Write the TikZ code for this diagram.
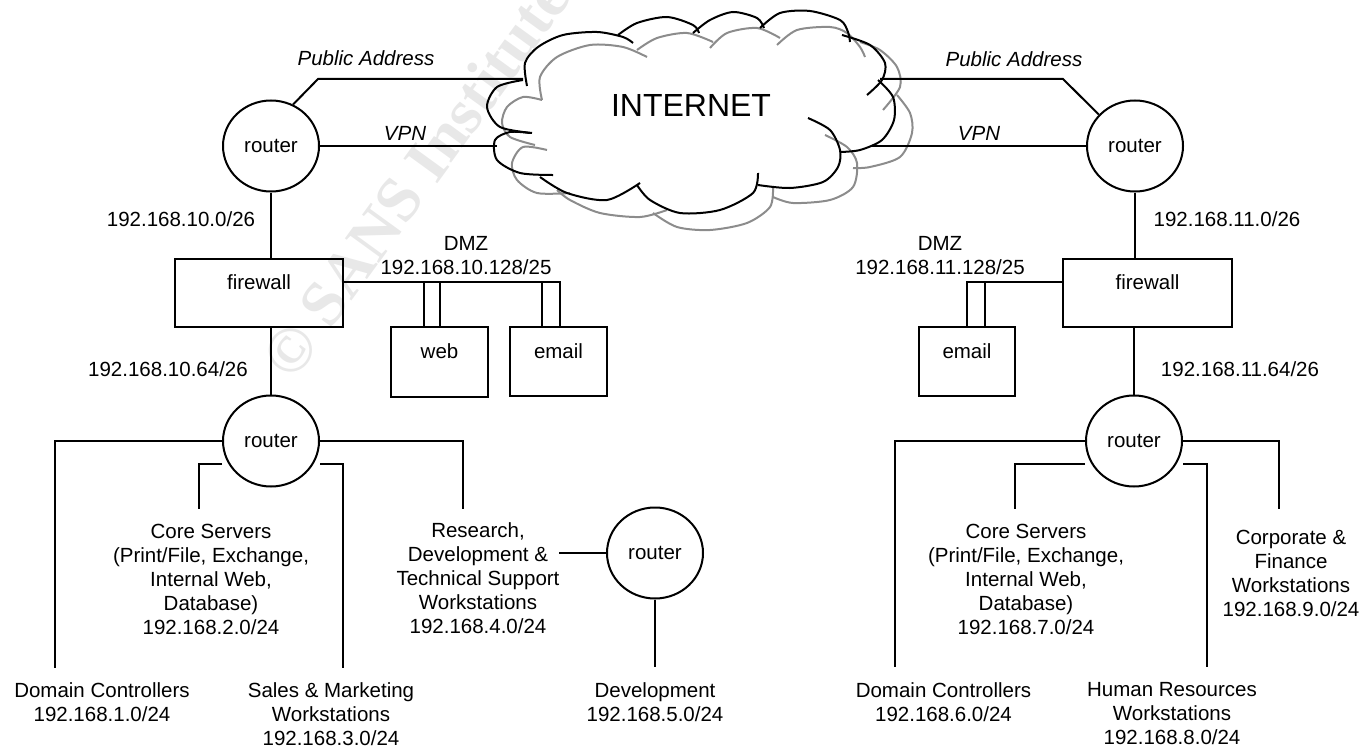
\documentclass[tikz,border=0pt]{standalone}
\usepackage{fontspec}
\setmainfont{Liberation Sans}
\newfontfamily\wmfont{Liberation Serif}
\usetikzlibrary{shapes.geometric}
\begin{document}
\begin{tikzpicture}[x=1pt,y=-1pt, line width=2pt,
  every node/.style={font=\fontsize{20.5}{24}\selectfont},
  rtr/.style={draw, ellipse, minimum width=96pt, minimum height=91pt, inner sep=0pt},
  box/.style={draw, rectangle, inner sep=0pt, text depth=21pt},
  lbl/.style={align=center, inner sep=0pt},
  ital/.style={font=\fontsize{20.5}{24}\selectfont\itshape, inner sep=0pt},
  bk/.style={line width=2pt, black},
  gy/.style={line width=2pt, black!45},
]
\useasboundingbox (0,0) rectangle (1370,749);
\clip (0,0) rectangle (1370,749);

% watermark
\node[rotate=54, anchor=west, text=black!9, inner sep=0pt,
      font=\wmfont\bfseries\fontsize{64}{70}\selectfont] (wm) at (275,370) {© SANS Institute};

% cloud (grey outline)
\draw[gy] plot[smooth] coordinates {(542,100) (540,77) (557,57) (590,45) (623,47) (647,57)};
\draw[gy] plot[smooth] coordinates {(637,50) (657,38) (687,33) (713,42)};
\draw[gy] plot[smooth] coordinates {(710,48) (727,33) (757,28) (780,38)};
\draw[gy] plot[smooth] coordinates {(777,45) (797,30) (830,27) (847,33) (860,47) (865,57)};
\draw[gy] plot[smooth] coordinates {(860,42) (880,50) (897,67) (900,87) (883,110)};
\draw[gy] plot[smooth] coordinates {(897,95) (910,113) (912,133) (900,157) (870,167) (853,168)};
\draw[gy] plot[smooth] coordinates {(825,135) (847,147) (857,163) (853,187) (830,200) (793,203) (773,197)};
\draw[gy] plot[smooth] coordinates {(773,187) (770,207) (747,223) (710,230) (677,227) (653,213)};
\draw[gy] plot[smooth] coordinates {(667,210) (640,217) (600,213) (570,200) (557,190)};
\draw[gy] plot[smooth] coordinates {(570,193) (537,193) (517,180) (512,163) (523,147) (547,150)};
\draw[gy] plot[smooth] coordinates {(535,145) (510,137) (502,123) (507,107) (523,97) (542,100)};

% cloud (black outline)
\draw[bk] plot[smooth] coordinates {(527,86) (525,63) (538,47) (563,35) (597,32) (623,37) (633,43)};
\draw[bk] plot[smooth] coordinates {(618,35) (637,23) (667,17) (693,25) (699,33)};
\draw[bk] plot[smooth] coordinates {(693,33) (710,20) (733,12) (757,18) (764,28)};
\draw[bk] plot[smooth] coordinates {(760,28) (780,13) (810,11) (840,20) (848,32) (850,42)};
\draw[bk] plot[smooth] coordinates {(842,35) (870,45) (885,63) (882,80) (867,95)};
\draw[bk] plot[smooth] coordinates {(878,80) (893,97) (894,120) (882,140) (860,150) (840,152)};
\draw[bk] plot[smooth] coordinates {(808,118) (830,130) (840,150) (838,167) (823,182) (790,188) (758,185)};
\draw[bk] plot[smooth] coordinates {(758,173) (753,193) (720,210) (680,213) (650,200) (637,185)};
\draw[bk] plot[smooth] coordinates {(640,183) (607,200) (567,193) (540,177)};
\draw[bk] plot[smooth] coordinates {(553,175) (520,173) (497,160) (495,140) (510,132) (530,133)};
\draw[bk] plot[smooth] coordinates {(532,133) (500,127) (487,107) (497,87) (523,80)};
\node[font=\fontsize{32}{36}\selectfont] (inet) at (691,105) {INTERNET};

% cloud attachment points
\coordinate (cPL) at (523,79);
\coordinate (cVL) at (497,146);
\coordinate (cPR) at (880,79);
\coordinate (cVR) at (872,146);
\coordinate (bPL) at (318,79);
\coordinate (bPR) at (1063,79);

% routers
\node[rtr] (rtrTL) at (271,146) {router};
\node[rtr] (rtrTR) at (1135,146) {router};
\node[rtr] (rtrBL) at (271,441) {router};
\node[rtr] (rtrBR) at (1134,441) {router};
\node[rtr] (rtrDV) at (655,553) {router};

% firewalls and servers
\node[box, minimum width=168pt, minimum height=68pt] (fwL) at (259,293) {firewall};
\node[box, minimum width=169pt, minimum height=68pt] (fwR) at (1147.5,293) {firewall};
\node[box, minimum width=97pt, minimum height=70pt] (web) at (439.5,362) {web};
\node[box, minimum width=97pt, minimum height=69pt] (emL) at (558.5,361.5) {email};
\node[box, minimum width=96pt, minimum height=69pt] (emR) at (967,361.5) {email};

% internet links
\draw (rtrTL.62) -- (bPL) -- (cPL);
\draw (rtrTL.east) -- (cVL);
\draw (rtrTR.139) -- (bPR) -- (cPR);
\draw (rtrTR.west) -- (cVR);
\node[ital] (pubL) at (366,58) {Public Address};
\node[ital] (vpnL) at (405,133) {VPN};
\node[ital] (pubR) at (1014,59) {Public Address};
\node[ital] (vpnR) at (979,133) {VPN};

% router - firewall - router
\draw (rtrTL.south) -- (rtrTL.south |- fwL.north);
\draw (fwL.south -| rtrBL.north) -- (rtrBL.north);
\draw (rtrTR.south) -- (rtrTR.south |- fwR.north);
\draw (fwR.south -| rtrBR.north) -- (rtrBR.north);
\node (ipTL) at (181,219) {192.168.10.0/26};
\node (ipTR) at (1227,219) {192.168.11.0/26};
\node (ipBL) at (168,369) {192.168.10.64/26};
\node (ipBR) at (1240,369) {192.168.11.64/26};

% DMZ left
\coordinate (dmzEndL) at (559.5,282);
\coordinate (wA) at (424,282);
\coordinate (wB) at (439.5,282);
\coordinate (eA) at (542,282);
\draw (fwL.east |- dmzEndL) -- (dmzEndL) -- (dmzEndL |- emL.north);
\draw (wA) -- (wA |- web.north);
\draw (wB) -- (wB |- web.north);
\draw (eA) -- (eA |- emL.north);
\node[lbl] (dmzL) at (466,256) {DMZ\\192.168.10.128/25};

% DMZ right
\coordinate (dmzEndR) at (967,282);
\coordinate (eB) at (985,282);
\draw (fwR.west |- dmzEndR) -- (dmzEndR) -- (dmzEndR |- emR.north);
\draw (eB) -- (eB |- emR.north);
\node[lbl] (dmzR) at (940,256) {DMZ\\192.168.11.128/25};

% lower left branches
\coordinate (eDCL) at (55,668);
\coordinate (eCoreL) at (199,509);
\coordinate (eSalesL) at (343,668);
\coordinate (eResL) at (463,509);
\coordinate (eRes2) at (559,553);
\coordinate (eDev) at (655,667);
\draw (rtrBL.west) -| (eDCL);
\draw ([yshift=-23pt]rtrBL.west) -| (eCoreL);
\draw ([yshift=-23pt]rtrBL.east) -| (eSalesL);
\draw (rtrBL.east) -| (eResL);
\draw (eRes2) -- (rtrDV.west);
\draw (rtrDV.south) -- (eDev);

% lower right branches
\coordinate (eDCR) at (895,667);
\coordinate (eCoreR) at (1015,509);
\coordinate (eHR) at (1207,667);
\coordinate (eCorp) at (1279,509);
\draw (rtrBR.west) -| (eDCR);
\draw ([yshift=-23pt]rtrBR.west) -| (eCoreR);
\draw ([yshift=-23pt]rtrBR.east) -| (eHR);
\draw (rtrBR.east) -| (eCorp);

% subnet labels
\node[lbl] (tDCL) at (102,702) {Domain Controllers\\192.168.1.0/24};
\node[lbl] (tCoreL) at (211,579) {Core Servers\\(Print/File, Exchange,\\Internal Web,\\Database)\\192.168.2.0/24};
\node[lbl] (tSalesL) at (331,714) {Sales \& Marketing\\Workstations\\192.168.3.0/24};
\node[lbl] (tResL) at (478,578) {Research,\\Development \&\\Technical Support\\Workstations\\192.168.4.0/24};
\node[lbl] (tDev) at (655,702) {Development\\192.168.5.0/24};
\node[lbl] (tDCR) at (943.5,702) {Domain Controllers\\192.168.6.0/24};
\node[lbl] (tCoreR) at (1026,579) {Core Servers\\(Print/File, Exchange,\\Internal Web,\\Database)\\192.168.7.0/24};
\node[lbl] (tHR) at (1172,714) {Human Resources\\Workstations\\192.168.8.0/24};
\node[lbl] (tCorp) at (1291,573) {Corporate \&\\Finance\\Workstations\\192.168.9.0/24};
\end{tikzpicture}
\end{document}
